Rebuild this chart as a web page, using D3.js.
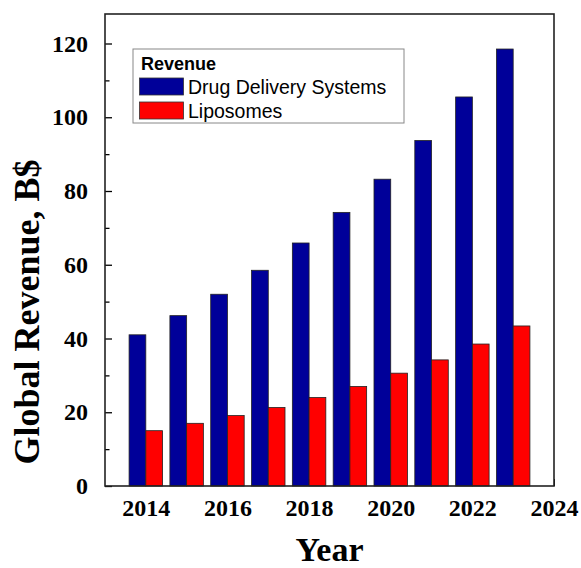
<!DOCTYPE html>
<html>
<head>
<meta charset="utf-8">
<script src="https://cdn.jsdelivr.net/npm/d3@7"></script>
<style>
  body { margin: 0; background: white; }
</style>
</head>
<body>
<div id="chart"></div>
<script>
// data
var years = [2014, 2015, 2016, 2017, 2018, 2019, 2020, 2021, 2022, 2023];
var drugDelivery = [41.0, 46.2, 52.0, 58.5, 65.9, 74.2, 83.2, 93.7, 105.5, 118.5];
var liposomes = [15.0, 17.0, 19.1, 21.3, 24.0, 27.0, 30.6, 34.2, 38.5, 43.4];
var seriesNames = ["Drug Delivery Systems", "Liposomes"];
var seriesColors = ["#000099", "#ff0000"];
var xTicks = [2014, 2016, 2018, 2020, 2022, 2024];
var yTicks = [0, 20, 40, 60, 80, 100, 120];

var svgWidth = 581;
var svgHeight = 568;

var margin = { top: 14, right: 27, bottom: 82, left: 105 };
var chartWidth = svgWidth - margin.left - margin.right;
var chartHeight = svgHeight - margin.top - margin.bottom;

var svg = d3.select("#chart")
  .append("svg")
  .attr("width", svgWidth)
  .attr("height", svgHeight);

var chartGroup = svg.append("g")
  .attr("transform", `translate(${margin.left}, ${margin.top})`);

// scales
var xScale = d3.scaleLinear()
  .domain([2013, 2024])
  .range([0, chartWidth]);

var yScale = d3.scaleLinear()
  .domain([0, 128])
  .range([chartHeight, 0]);

var barW = 0.41; // in years

// x ticks (inside, mostly hidden behind the bars)
chartGroup.append("g")
  .attr("transform", `translate(0, ${chartHeight})`)
  .call(d3.axisBottom(xScale).tickValues(xTicks).tickFormat(d3.format("d"))
    .tickSizeInner(-7).tickSizeOuter(0).tickPadding(13))
  .call(g => g.select(".domain").remove())
  .selectAll("text")
  .style("font-family", "'Liberation Serif', 'Times New Roman', serif")
  .style("font-weight", "bold")
  .style("font-size", "24px")
  .attr("fill", "black");

// bars
var rows = years.map((y, i) => ({ year: y, vals: [drugDelivery[i], liposomes[i]] }));

rows.forEach(function (r) {
  r.vals.forEach(function (v, s) {
    var x0 = s === 0 ? r.year - barW : r.year;
    chartGroup.append("rect")
      .attr("x", xScale(x0))
      .attr("y", yScale(v))
      .attr("width", xScale(x0 + barW) - xScale(x0))
      .attr("height", yScale(0) - yScale(v))
      .attr("fill", seriesColors[s])
      .attr("stroke", "#222")
      .attr("stroke-width", 0.8);
  });
});

// y axis with minor ticks
var yAxisG = chartGroup.append("g")
  .call(d3.axisLeft(yScale).tickValues(yTicks)
    .tickSizeInner(-7).tickSizeOuter(0).tickPadding(17));
yAxisG.select(".domain").remove();
yAxisG.selectAll("text")
  .style("font-family", "'Liberation Serif', 'Times New Roman', serif")
  .style("font-weight", "bold")
  .style("font-size", "24px")
  .attr("fill", "black");
yAxisG.selectAll("line").attr("stroke-width", 1.3);

chartGroup.append("g")
  .call(d3.axisLeft(yScale).tickValues(d3.range(10, 128, 20))
    .tickSizeInner(-4.5).tickSizeOuter(0).tickFormat(""))
  .call(g => g.select(".domain").remove())
  .selectAll("line").attr("stroke-width", 1.3);

// frame
chartGroup.append("rect")
  .attr("x", 0)
  .attr("y", 0)
  .attr("width", chartWidth)
  .attr("height", chartHeight)
  .attr("fill", "none")
  .attr("stroke", "#222")
  .attr("stroke-width", 1.6);

// legend
var legend = svg.append("g").attr("transform", "translate(133, 49)");
legend.append("rect")
  .attr("width", 271)
  .attr("height", 74)
  .attr("fill", "white")
  .attr("stroke", "#888")
  .attr("stroke-width", 1);
legend.append("text")
  .attr("x", 8)
  .attr("y", 20.5)
  .style("font-family", "Arial, 'Liberation Sans', sans-serif")
  .style("font-weight", "bold")
  .style("font-size", "18px")
  .text("Revenue");
seriesNames.forEach(function (name, i) {
  legend.append("rect")
    .attr("x", 6.5)
    .attr("y", 29 + i * 24)
    .attr("width", 44)
    .attr("height", 17)
    .attr("fill", seriesColors[i])
    .attr("stroke", "#333")
    .attr("stroke-width", 0.8);
  legend.append("text")
    .attr("x", 55)
    .attr("y", 45 + i * 23.5)
    .style("font-family", "Arial, 'Liberation Sans', sans-serif")
    .style("font-size", "19.5px")
    .text(name);
});

// axis titles
svg.append("text")
  .attr("x", margin.left + chartWidth / 2)
  .attr("y", 561)
  .style("text-anchor", "middle")
  .style("font-family", "'Liberation Serif', 'Times New Roman', serif")
  .style("font-weight", "bold")
  .style("font-size", "34px")
  .text("Year");

svg.append("text")
  .attr("transform", "translate(39, 312) rotate(-90)")
  .style("text-anchor", "middle")
  .style("font-family", "'Liberation Serif', 'Times New Roman', serif")
  .style("font-weight", "bold")
  .style("font-size", "36px")
  .text("Global Revenue, B$");
</script>
</body>
</html>
